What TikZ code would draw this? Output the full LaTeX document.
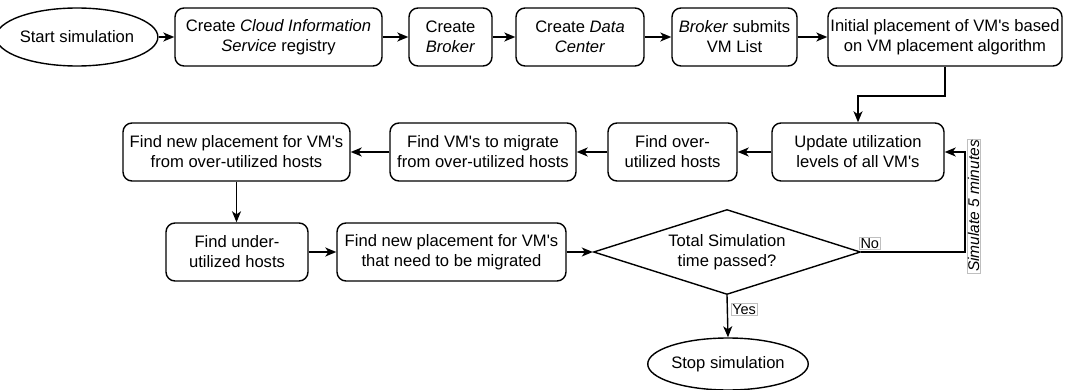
\documentclass[tikz,border=0pt]{standalone}
\usepackage{fontspec}
\setmainfont{Liberation Sans}[Ligatures=TeXOff]
\usetikzlibrary{shapes.geometric,arrows.meta,calc}

\tikzset{
  every node/.style={font=\fontsize{16.6}{20}\selectfont},
  stepbox/.style={draw, rounded corners=9pt, line width=1.4pt, align=center,
    minimum height=58pt, inner sep=1pt},
  term/.style={draw, ellipse, line width=1.4pt, align=center, inner sep=0pt},
  decision/.style={draw, diamond, line width=1.4pt, align=center, inner sep=0pt},
  flow/.style={line width=1.4pt, -{Stealth[length=11pt,width=9pt,inset=3pt]}},
  edgelabel/.style={draw=black!25, fill=white, line width=0.6pt, inner sep=1pt,
    font=\fontsize{14.5}{16}\selectfont},
}

\begin{document}
\begin{tikzpicture}[x=1pt, y=-1pt]
\useasboundingbox (0,0) rectangle (1078,390);

% top row
\node[term, minimum width=139pt, minimum height=58pt] (start) at (77,37) {Start simulation};
\node[stepbox, minimum width=207pt] (cis) at (278.5,37) {Create \textit{Cloud Information}\\\textit{Service} registry};
\node[stepbox, minimum width=83pt] (broker) at (450.5,37) {Create\\\textit{Broker}};
\node[stepbox, minimum width=128pt] (dc) at (580,37) {Create \textit{Data}\\\textit{Center}};
\node[stepbox, minimum width=125pt] (submit) at (734.5,37) {\textit{Broker} submits\\VM List};
\node[stepbox, minimum width=234pt] (init) at (945,37) {Initial placement of VM's based\\on VM placement algorithm};

% middle row
\node[stepbox, minimum width=172pt] (update) at (858,152) {Update utilization\\levels of all VM's};
\node[stepbox, minimum width=129pt] (over) at (672.5,152) {Find over-\\utilized hosts};
\node[stepbox, minimum width=186pt] (migrate) at (483,152) {Find VM's to migrate\\from over-utilized hosts};
\node[stepbox, minimum width=227pt] (newpl) at (236.5,152) {Find new placement for VM's\\from over-utilized hosts};

% bottom row
\node[stepbox, minimum width=142pt] (under) at (237,252) {Find under-\\utilized hosts};
\node[stepbox, minimum width=229pt] (place) at (451.5,252) {Find new placement for VM's\\that need to be migrated};
\node[decision, minimum width=267pt, minimum height=85pt, shape aspect=3.14] (check) at (727,252) {Total Simulation\\time passed?};
\node[term, minimum width=142pt, minimum height=52pt] (stop) at (728,364) {Stop simulation};

\coordinate (drop) at (0,96);
\coordinate (loop) at (965,0);

% connectors
\draw[flow] (start) -- (cis);
\draw[flow] (cis) -- (broker);
\draw[flow] (broker) -- (dc);
\draw[flow] (dc) -- (submit);
\draw[flow] (submit) -- (init);
\draw[flow] (init.south) -- (init.south |- drop) -| (update.north);
\draw[flow] (update) -- (over);
\draw[flow] (over) -- (migrate);
\draw[flow] (migrate) -- (newpl);
\draw[flow] (newpl.south) -- (newpl.south |- under.north);
\draw[flow] (under) -- (place);
\draw[flow] (place) -- (check.west);
\draw[flow] (check.east) -| (loop |- update.east) -- (update.east);
\draw[flow] (check.south) -- (stop.north);

% edge labels
\node[edgelabel, anchor=south west] (no) at ($(check.east)+(-2,-2)$) {No};
\node[edgelabel, anchor=north west] (yes) at ($(check.south)+(4,8)$) {Yes};
\node[edgelabel, rotate=90, anchor=north, font=\fontsize{15.5}{18}\selectfont\itshape] (sim) at ($(loop |- check.east)+(1.5,-46)$) {Simulate 5 minutes};
\end{tikzpicture}
\end{document}
